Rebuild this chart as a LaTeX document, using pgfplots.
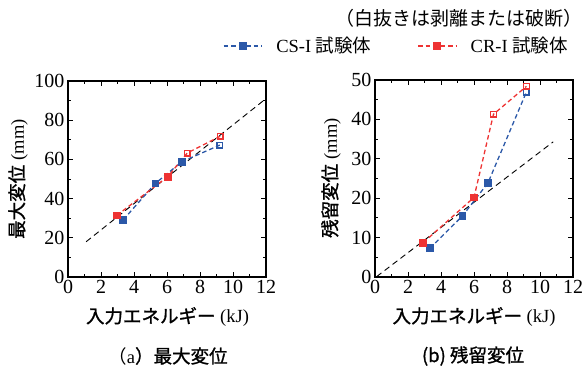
\documentclass[border=0pt]{standalone}
\usepackage{fontspec}
\setmainfont{Liberation Serif}
\newfontfamily\cjk{Noto Sans CJK JP}
\newfontfamily\cjkm[FakeBold=1.2]{Noto Sans CJK JP}
\usepackage{pgfplots}
\pgfplotsset{compat=1.18}
\definecolor{cblue}{HTML}{2B58A8}
\definecolor{cred}{HTML}{EE3333}
\begin{document}
\begin{tikzpicture}
\path[use as bounding box] (0pt,0pt) rectangle (584pt,371pt);
\pgfplotsset{
  myax/.style={scale only axis, width=198pt, height=196pt, xmin=0, xmax=12,
    xtick={0,2,...,12}, minor x tick num=1, minor y tick num=1,
    tick align=inside, major tick length=5pt, minor tick length=3pt,
    axis line style={line width=1.1pt},
    every tick/.append style={line width=0.9pt, black},
    ticklabel style={font=\fontsize{20}{20}\selectfont},
    /pgf/number format/assume math mode=true,
    anchor=south west, clip=false},
  sblue/.style={cblue, line width=1.3pt, dash pattern=on 4.5pt off 3pt},
  sred/.style={cred, line width=1.3pt, dash pattern=on 4.5pt off 3pt},
  fmark/.style={only marks, mark=square*, mark size=3.4pt, mark options={solid, line width=0.8pt}},
  omark/.style={only marks, mark=square, mark size=2.8pt, mark options={solid, line width=1.3pt, fill=white}},
  refl/.style={black, line width=0.9pt, dash pattern=on 6pt off 4pt},
}
% (a)
\begin{axis}[myax, at={(68pt,94pt)}, ymin=0, ymax=100, ytick={0,20,...,100}]
\addplot[refl] coordinates {(1.1,18) (12,91)};
\addplot[sblue] coordinates {(3.35,29.2) (5.3,47.8) (6.9,58.8) (9.2,67.3)};
\addplot[sred] coordinates {(2.95,31.4) (6.05,51.2) (7.22,63.2) (9.22,71.8)};
\addplot[cblue, fmark] coordinates {(3.35,29.2) (5.3,47.8) (6.9,58.8)};
\addplot[cblue, omark] coordinates {(9.2,67.3)};
\addplot[cred, fmark] coordinates {(2.95,31.4) (6.05,51.2)};
\addplot[cred, omark] coordinates {(7.22,63.2) (9.22,71.8)};
\end{axis}
% (b)
\begin{axis}[myax, at={(375pt,94pt)}, height=197pt, ymin=0, ymax=50, ytick={0,10,...,50},
  legend style={at={(axis description cs:1.0,1.173)}, anchor=east, draw=none, fill=none,
    font=\fontsize{18.5}{18.5}\selectfont, legend columns=2,
    /tikz/every odd column/.append style={column sep=12pt},
    /tikz/every even column/.append style={column sep=44pt}},
  legend cell align=left,
  legend image code/.code={\draw[mark repeat=2,mark phase=2,#1] plot coordinates {(0pt,0pt) (19pt,0pt) (38pt,0pt)};}]
\addlegendimage{sblue, mark=square*, mark size=3.2pt, mark options={solid}}
\addlegendentry{CS-I {\cjk 試験体}}
\addlegendimage{sred, mark=square*, mark size=3.2pt, mark options={solid}}
\addlegendentry{CR-I {\cjk 試験体}}
\addplot[refl] coordinates {(0.1,0.1) (10.8,34.3)};
\addplot[sblue] coordinates {(3.33,7.3) (5.3,15.5) (6.85,23.9) (9.17,46.9)};
\addplot[sred] coordinates {(2.92,8.7) (6.0,20.2) (7.18,41.3) (9.18,48.4)};
\addplot[cblue, fmark] coordinates {(3.33,7.3) (5.3,15.5) (6.85,23.9)};
\addplot[cblue, omark] coordinates {(9.17,46.9)};
\addplot[cred, fmark] coordinates {(2.92,8.7) (6.0,20.2)};
\addplot[cred, omark] coordinates {(7.18,41.3) (9.18,48.4)};
\end{axis}
\node[anchor=east, inner sep=0pt, font=\fontsize{19}{19}\selectfont\cjk] at (583pt,353pt) {（白抜きは剥離または破断）};
\node[rotate=90, inner sep=0pt, font=\fontsize{18.5}{18.5}\selectfont] at (18pt,192pt) {{\cjkm 最大変位} (mm)};
\node[rotate=90, inner sep=0pt, font=\fontsize{18.5}{18.5}\selectfont] at (331pt,193pt) {{\cjkm 残留変位} (mm)};
\node[inner sep=0pt, font=\fontsize{18.5}{18.5}\selectfont] at (167.5pt,54pt) {{\cjkm 入力エネルギー} (kJ)};
\node[inner sep=0pt, font=\fontsize{18.5}{18.5}\selectfont] at (474pt,54pt) {{\cjkm 入力エネルギー} (kJ)};
\node[inner sep=0pt, font=\fontsize{18.5}{18.5}\selectfont] at (168pt,15pt) {{\cjk （}a{\cjkm ）最大変位}};
\node[inner sep=0pt, font=\fontsize{18.5}{18.5}\selectfont\cjkm] at (473pt,15pt) {(b) 残留変位};
\end{tikzpicture}
\end{document}
